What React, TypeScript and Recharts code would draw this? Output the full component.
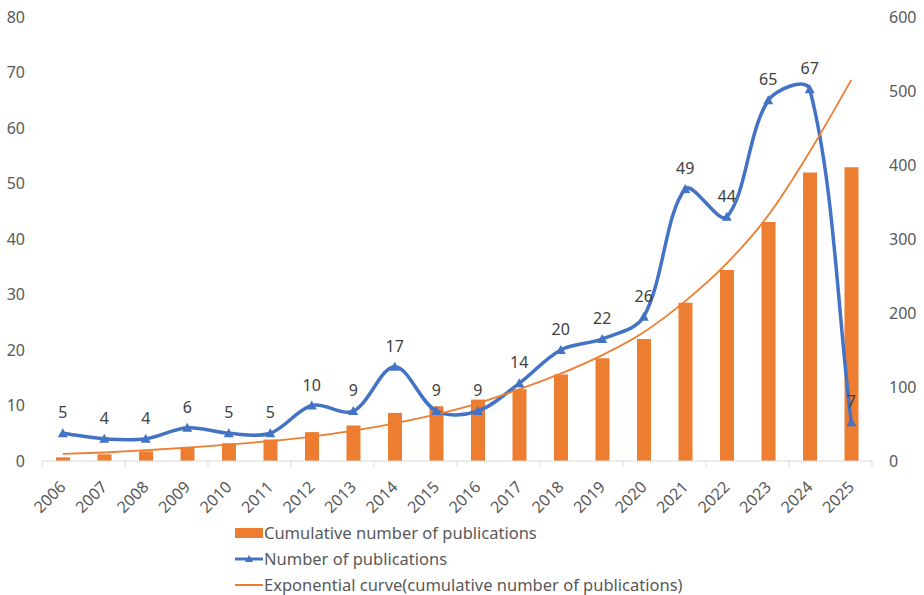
import React from "react";
import { Bar, ComposedChart, LabelList, Legend, Line, XAxis, YAxis } from "recharts";

// values
const years = [
  "2006", "2007", "2008", "2009", "2010", "2011", "2012", "2013", "2014", "2015",
  "2016", "2017", "2018", "2019", "2020", "2021", "2022", "2023", "2024", "2025",
];
const publications = [5, 4, 4, 6, 5, 5, 10, 9, 17, 9, 9, 14, 20, 22, 26, 49, 44, 65, 67, 7];
const cumulative = [5, 9, 13, 19, 24, 29, 39, 48, 65, 74, 83, 97, 117, 139, 165, 214, 258, 323, 390, 397];
const exponentialCurve = [9.5, 11.5, 14.5, 18, 22, 27, 33, 41, 51, 63, 78, 97, 118, 143, 174, 216, 267, 332, 418, 515];
const leftTicks = [0, 10, 20, 30, 40, 50, 60, 70, 80];
const rightTicks = [0, 100, 200, 300, 400, 500, 600];
const seriesNames = [
  "Cumulative number of publications",
  "Number of publications",
  "Exponential curve(cumulative number of publications)",
];

const data = years.map((year, i) => ({
  year,
  cumulative: cumulative[i],
  publications: publications[i],
  trend: exponentialCurve[i],
}));

const ORANGE = "#ED7D31";
const BLUE = "#4472C4";
const AXIS_TEXT = "#595959";
const FONT = "'Noto Sans', 'Open Sans', sans-serif";
const WIDTH = 924;
const HEIGHT = 595;
const LEFT_W = 42;
const RIGHT_W = 52;
const BAND = (WIDTH - LEFT_W - RIGHT_W) / years.length;

// Excel-like smoothed line: bezier segments, tangents scaled by segment length
function excelSmooth(context: any) {
  let pts: number[][] = [];
  const dist = (a: number[], b: number[]) => Math.hypot(b[0] - a[0], b[1] - a[1]);
  return {
    areaStart() {},
    areaEnd() {},
    lineStart() {
      pts = [];
    },
    point(x: number, y: number) {
      pts.push([+x, +y]);
    },
    lineEnd() {
      if (!pts.length) return;
      context.moveTo(pts[0][0], pts[0][1]);
      for (let i = 0; i < pts.length - 1; i++) {
        const p0 = pts[i - 1] ?? pts[i];
        const p1 = pts[i];
        const p2 = pts[i + 1];
        const p3 = pts[i + 2] ?? p2;
        const d01 = dist(p0, p1);
        const d12 = dist(p1, p2);
        const d23 = dist(p2, p3);
        const f1 = d01 + d12 > 0 ? d12 / (d01 + d12) / 3 : 0;
        const f2 = d12 + d23 > 0 ? d12 / (d12 + d23) / 3 : 0;
        const s1 = i === 0 ? 1 / 3 : f1;
        const s2 = i + 2 >= pts.length ? 1 / 3 : f2;
        context.bezierCurveTo(
          p1[0] + (p2[0] - p0[0]) * s1,
          p1[1] + (p2[1] - p0[1]) * s1,
          p2[0] - (p3[0] - p1[0]) * s2,
          p2[1] - (p3[1] - p1[1]) * s2,
          p2[0],
          p2[1]
        );
      }
    },
  };
}

const Triangle = (props: any) => {
  const { cx, cy } = props;
  if (cx == null || cy == null) return null;
  return <path d={`M${cx},${cy - 5} L${cx + 5},${cy + 4} L${cx - 5},${cy + 4} Z`} fill={BLUE} />;
};

const YearTick = (props: any) => {
  const { x, y, payload, index } = props;
  const tx = x + 4;
  const ty = y + 27;
  return (
    <g>
      {index % 2 === 0 && (
        <line x1={x - BAND / 2} x2={x - BAND / 2} y1={y} y2={y + 6} stroke="#D9D9D9" />
      )}
      {index === years.length - 1 && (
        <line x1={x + BAND / 2} x2={x + BAND / 2} y1={y} y2={y + 6} stroke="#D9D9D9" />
      )}
      <text
        x={tx}
        y={ty}
        transform={`rotate(-45, ${tx}, ${ty})`}
        textAnchor="end"
        fill={AXIS_TEXT}
        fontSize={16}
        fontFamily={FONT}
      >
        {payload.value}
      </text>
    </g>
  );
};

const LegendContent = () => (
  <div style={{ fontFamily: FONT, fontSize: 16.5, color: AXIS_TEXT, lineHeight: "26px" }}>
    <div style={{ display: "flex", alignItems: "center" }}>
      <svg width={31} height={12}>
        <rect x={2} y={1} width={28} height={10} fill={ORANGE} />
      </svg>
      <span>{seriesNames[0]}</span>
    </div>
    <div style={{ display: "flex", alignItems: "center" }}>
      <svg width={31} height={12}>
        <line x1={2} x2={30} y1={6} y2={6} stroke={BLUE} strokeWidth={3} />
        <path d="M16,2 L20,9 L12,9 Z" fill={BLUE} />
      </svg>
      <span>{seriesNames[1]}</span>
    </div>
    <div style={{ display: "flex", alignItems: "center" }}>
      <svg width={31} height={12}>
        <line x1={2} x2={30} y1={6} y2={6} stroke={ORANGE} strokeWidth={2} />
      </svg>
      <span>{seriesNames[2]}</span>
    </div>
  </div>
);

export default function App() {
  return (
    <div style={{ position: "absolute", left: 0, top: 0, width: WIDTH, height: HEIGHT, background: "#fff" }}>
      <ComposedChart
        width={WIDTH}
        height={HEIGHT}
        data={data}
        margin={{ top: 17, right: 0, bottom: 74, left: 0 }}
      >
        <XAxis
          dataKey="year"
          height={60}
          interval={0}
          tickLine={false}
          tickSize={0}
          tickMargin={0}
          axisLine={{ stroke: "#D9D9D9" }}
          tick={<YearTick />}
        />
        <YAxis
          yAxisId="left"
          orientation="left"
          width={LEFT_W}
          domain={[0, 80]}
          ticks={leftTicks}
          interval={0}
          axisLine={false}
          tickLine={false}
          tickMargin={11}
          tick={{ fill: AXIS_TEXT, fontSize: 16, fontFamily: FONT }}
        />
        <YAxis
          yAxisId="right"
          orientation="right"
          width={RIGHT_W}
          domain={[0, 600]}
          ticks={rightTicks}
          interval={0}
          axisLine={false}
          tickLine={false}
          tickMargin={11}
          tick={{ fill: AXIS_TEXT, fontSize: 16, fontFamily: FONT, textAnchor: "start" }}
        />
        <Legend
          layout="vertical"
          align="center"
          verticalAlign="middle"
          wrapperStyle={{ top: 520, left: 233, width: "auto" }}
          content={<LegendContent />}
        />
        <Bar
          yAxisId="right"
          dataKey="cumulative"
          name={seriesNames[0]}
          fill={ORANGE}
          barSize={14}
          isAnimationActive={false}
        />
        <Line
          yAxisId="left"
          dataKey="publications"
          name={seriesNames[1]}
          type={excelSmooth as any}
          stroke={BLUE}
          strokeWidth={3.5}
          dot={<Triangle />}
          activeDot={false}
          isAnimationActive={false}
        >
          <LabelList
            dataKey="publications"
            position="top"
            offset={15}
            fill="#404040"
            fontSize={16}
            fontFamily={FONT}
          />
        </Line>
        <Line
          yAxisId="right"
          dataKey="trend"
          name={seriesNames[2]}
          type="monotone"
          stroke={ORANGE}
          strokeWidth={1.8}
          dot={false}
          activeDot={false}
          isAnimationActive={false}
        />
      </ComposedChart>
    </div>
  );
}
